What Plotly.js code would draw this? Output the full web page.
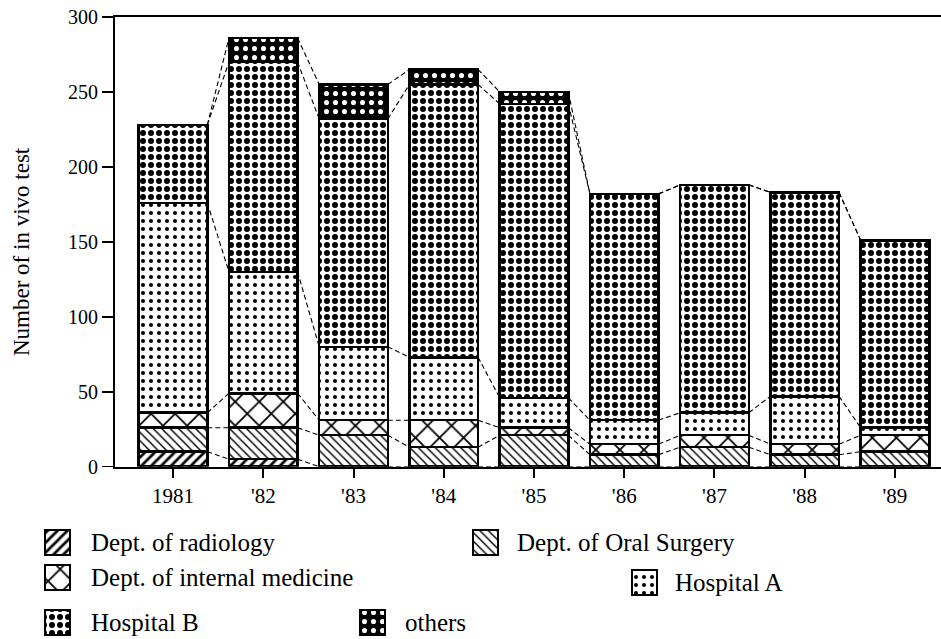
<!DOCTYPE html>
<html><head><meta charset="utf-8">
<script src="https://cdn.plot.ly/plotly-3.0.1.min.js"></script>
<style>body{margin:0;background:#fff}#chart{width:941px;height:639px}</style>
</head><body><div id="chart"></div>
<script>
const years = ["1981","'82","'83","'84","'85","'86","'87","'88","'89"];
const radiology = [10, 5, 0, 0, 0, 0, 0, 0, 0];
const oralSurgery = [16, 21, 21, 13, 21, 8, 13, 8, 10];
const internalMed = [10, 23, 10, 18, 5, 7, 8, 7, 11];
const hospitalA = [140, 81, 49, 42, 20, 16, 15, 32, 5];
const hospitalB = [52, 140, 152, 182, 196, 151, 152, 136, 125];
const others = [0, 16, 23, 10, 8, 0, 0, 0, 0];
const seriesNames = ["Dept. of radiology","Dept. of Oral Surgery","Dept. of internal medicine","Hospital A","Hospital B","others"];
const yTicks = [0, 50, 100, 150, 200, 250, 300];

const FONT = "Liberation Serif, Times New Roman, serif";
const W = 941, H = 639;
const BW = 0.76;
const xs = years.map((_, i) => i);
const series = [radiology, oralSurgery, internalMed, hospitalA, hospitalB, others];
const patterns = [
  {shape: "/", size: 7, solidity: 0.38, fgcolor: "#000", bgcolor: "#fff"},
  {shape: "\\", size: 6, solidity: 0.24, fgcolor: "#000", bgcolor: "#fff"},
  {shape: "x", size: 17, solidity: 0.2, fgcolor: "#000", bgcolor: "#fff"},
  {shape: ".", size: 8, solidity: 0.2, fgcolor: "#000", bgcolor: "#fff"},
  {shape: ".", size: 8, solidity: 0.44, fgcolor: "#000", bgcolor: "#fff"},
  {shape: ".", size: 9, solidity: 0.25, fgcolor: "#fff", bgcolor: "#000"}
];
const fills = ["#fff","#fff","#fff","#fff","#fff","#000"];

const traces = series.map((vals, k) => ({
  type: "bar", x: xs, y: vals, name: seriesNames[k], width: BW, showlegend: false,
  marker: {color: fills[k], line: {color: "#000", width: 2.5}, pattern: patterns[k]},
  hoverinfo: "y+name"
}));

// dashed connectors between cumulative levels of adjacent bars
const lx = [], ly = [];
const cum = series.map(() => years.map(() => 0));
for (let i = 0; i < years.length; i++) {
  let s = 0;
  for (let k = 0; k < series.length; k++) { s += series[k][i]; cum[k][i] = s; }
}
for (let k = 0; k < series.length; k++) {
  for (let i = 0; i < years.length - 1; i++) {
    lx.push(i + BW / 2, i + 1 - BW / 2, null);
    ly.push(cum[k][i], cum[k][i + 1], null);
  }
}
traces.push({type: "scatter", mode: "lines", x: lx, y: ly, showlegend: false,
  line: {color: "#000", width: 1.1, dash: "5px,3px"}, hoverinfo: "skip"});

// legend: swatch (left px, top px) and label position, in page pixels
const legendPos = [
  {sx: 45, sy: 530, tx: 89},
  {sx: 473, sy: 530, tx: 515},
  {sx: 45, sy: 565, tx: 89},
  {sx: 632, sy: 570, tx: 673},
  {sx: 45, sy: 610, tx: 89},
  {sx: 360, sy: 610, tx: 403}
];
const SW = 25;
const annotations = [];
legendPos.forEach((p, k) => {
  traces.push({type: "bar", x: [p.sx + SW / 2], y: [SW], base: [p.sy], width: [SW],
    xaxis: "x2", yaxis: "y2", showlegend: false, hoverinfo: "skip",
    marker: {color: fills[k], line: {color: "#000", width: 2}, pattern: patterns[k]}});
  annotations.push({xref: "paper", yref: "paper", x: p.tx / W, y: 1 - (p.sy + SW / 2) / H,
    xanchor: "left", yanchor: "middle", showarrow: false, text: seriesNames[k],
    font: {family: FONT, size: 25, color: "#000"}});
});
annotations.push({xref: "paper", yref: "paper", x: 22 / W, y: 1 - 252 / H, textangle: -90,
  xanchor: "center", yanchor: "middle", showarrow: false, text: "Number of in vivo test",
  font: {family: FONT, size: 23, color: "#000"}});

const layout = {
  width: W, height: H,
  margin: {l: 0, r: 0, t: 0, b: 0, autoexpand: false},
  paper_bgcolor: "#fff", plot_bgcolor: "rgba(0,0,0,0)",
  barmode: "stack", bargap: 0, showlegend: false,
  font: {family: FONT, size: 20, color: "#000"},
  xaxis: {domain: [115 / W, 1], range: [-0.643, 8.51], tickvals: xs, ticktext: years,
    showgrid: false, zeroline: false, showline: true, linecolor: "#000", linewidth: 2, mirror: true,
    ticks: "outside", ticklen: 9, tickwidth: 2, tickcolor: "#000",
    tickfont: {family: FONT, size: 21}, automargin: false, anchor: "y"},
  yaxis: {domain: [(H - 466.7) / H, 1 - 17 / H], range: [0, 300], tickvals: yTicks,
    showgrid: false, zeroline: false, showline: true, linecolor: "#000", linewidth: 2,
    ticks: "outside", ticklen: 11, tickwidth: 1.5, tickcolor: "#000",
    tickfont: {family: FONT, size: 20}, automargin: false, anchor: "x"},
  xaxis2: {domain: [0, 1], range: [0, W], visible: false, anchor: "y2", fixedrange: true},
  yaxis2: {domain: [0, 130 / H], range: [H, H - 130], visible: false, anchor: "x2", fixedrange: true},
  annotations: annotations
};

Plotly.newPlot("chart", traces, layout, {displayModeBar: false, staticPlot: true});
</script></body></html>
